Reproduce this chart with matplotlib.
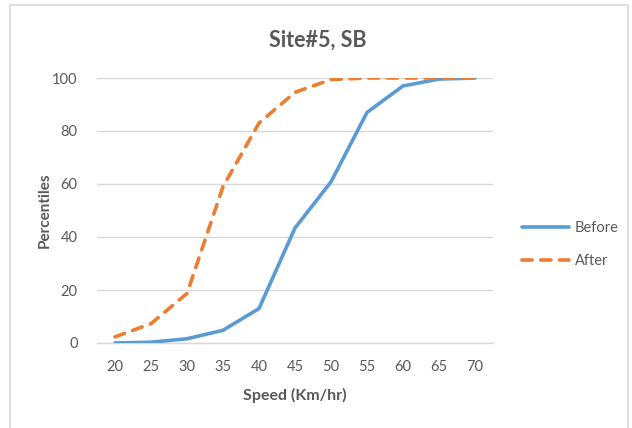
import matplotlib
matplotlib.use("Agg")
import matplotlib.pyplot as plt
from matplotlib.patches import Rectangle

speeds = [20, 25, 30, 35, 40, 45, 50, 55, 60, 65, 70]
before = [0.0, 0.3, 1.6, 4.8, 13.0, 43.4, 60.8, 87.0, 97.0, 99.6, 100.0]
after = [2.3, 7.3, 18.7, 59.0, 83.0, 94.6, 99.4, 100.0, 100.0, 100.0, 100.0]
y_ticks = [0, 20, 40, 60, 80, 100]

plt.rcParams['font.family'] = ['Lato', 'DejaVu Sans']
text_color = '#595959'

fig = plt.figure(figsize=(6.32, 4.28), dpi=100)
fig.patch.set_facecolor('white')
ax = fig.add_axes([97 / 632, 1 - 343 / 428, 396 / 632, 265 / 428])

# chart-area outline
fig.patches.append(Rectangle((10 / 632, -0.02), 618 / 632, 1.02 - 5 / 428,
                             transform=fig.transFigure, fill=False,
                             edgecolor='#D9D9D9', linewidth=1.2))

ax.plot(speeds, before, color='#5B9BD5', linewidth=2.6, label='Before',
        solid_capstyle='round', zorder=3)
ax.plot(speeds, after, color='#ED7D31', linewidth=2.6, label='After',
        linestyle=(0, (2.8, 2.4)), dash_capstyle='round', zorder=3)

ax.set_xlim(17.5, 72.5)
ax.set_ylim(0, 100)
ax.set_xticks(speeds)
ax.set_yticks(y_ticks)
ax.grid(axis='y', color='#D9D9D9', linewidth=1.0)
ax.set_axisbelow(True)
for side in ['top', 'right', 'left']:
    ax.spines[side].set_visible(False)
ax.spines['bottom'].set_color('#D9D9D9')
ax.spines['bottom'].set_linewidth(1.0)
ax.tick_params(length=0, labelsize=10.5, labelcolor=text_color)
ax.tick_params(axis='x', pad=12)
ax.tick_params(axis='y', pad=14)

ax.set_xlabel('Speed (Km/hr)', fontsize=11.5, fontweight='bold',
              color=text_color, labelpad=10)
ax.set_ylabel('Percentiles', fontsize=11, fontweight='bold',
              color=text_color, labelpad=0)
fig.text(318 / 632, 1 - 40 / 428, 'Site#5, SB', ha='center', va='center',
         fontsize=15.5, fontweight='bold', color=text_color)

leg = ax.legend(loc='center left', bbox_to_anchor=(1.04, 0.37), frameon=False,
                fontsize=10.5, handlelength=3.2, labelspacing=1.3,
                handletextpad=0.4)
for t in leg.get_texts():
    t.set_color(text_color)

fig.savefig('out.png', dpi=100, facecolor='white')
